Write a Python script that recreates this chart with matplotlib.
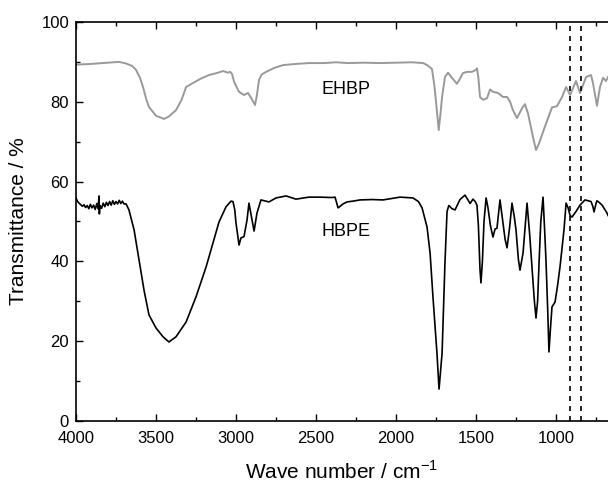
import matplotlib
matplotlib.use("Agg")
import matplotlib.pyplot as plt
from matplotlib.ticker import MultipleLocator

plt.rcParams['font.family'] = ['Liberation Sans', 'DejaVu Sans']

# EHBP spectrum (wavenumber, transmittance)
ehbp_w = [4000, 3900, 3800, 3731, 3687, 3650, 3625, 3600, 3581, 3560, 3544, 3500, 3450, 3420,
          3375, 3340, 3312, 3269, 3220, 3169, 3120, 3081, 3050, 3037, 3025, 3012, 2981, 2950,
          2925, 2906, 2881, 2870, 2856, 2840, 2812, 2760, 2706, 2620, 2544, 2450, 2375, 2300,
          2200, 2100, 2000, 1900, 1830, 1806, 1790, 1775, 1760, 1745, 1733, 1722, 1712, 1694,
          1675, 1650, 1619, 1600, 1581, 1556, 1525, 1500, 1494, 1485, 1475, 1456, 1431, 1412,
          1394, 1362, 1331, 1306, 1287, 1269, 1244, 1212, 1194, 1175, 1144, 1125, 1106, 1069,
          1025, 994, 962, 937, 912, 875, 850, 812, 781, 769, 744, 725, 706, 688, 675]
ehbp_t = [89.3, 89.5, 89.8, 90.0, 89.6, 89.0, 88.0, 86.0, 83.7, 80.5, 78.7, 76.5, 75.7, 76.3,
          77.9, 80.5, 83.7, 84.7, 85.8, 86.7, 87.2, 87.7, 87.3, 87.5, 87.0, 85.0, 82.5, 81.7,
          82.2, 81.0, 79.2, 81.5, 85.5, 86.8, 87.5, 88.5, 89.2, 89.5, 89.7, 89.7, 89.9, 89.7,
          89.8, 89.7, 89.8, 89.9, 89.7, 89.2, 88.7, 88.2, 84.0, 78.0, 72.9, 77.0, 81.2, 86.2,
          87.3, 86.0, 84.5, 85.8, 87.2, 87.5, 87.5, 88.0, 88.4, 86.0, 81.2, 80.5, 80.9, 83.1,
          82.5, 82.2, 81.2, 81.2, 80.0, 77.9, 75.9, 78.4, 79.4, 77.1, 71.2, 67.9, 69.6, 73.8,
          78.6, 78.9, 81.2, 83.7, 81.7, 85.2, 82.2, 86.2, 86.7, 84.7, 79.0, 83.7, 86.0, 85.2, 86.2]

# HBPE spectrum (wavenumber, transmittance)
hbpe_w = [4000, 3990, 3981, 3970, 3960, 3950, 3940, 3930, 3920, 3910, 3900, 3890, 3880, 3870,
          3862, 3856, 3854, 3850, 3840, 3830, 3820, 3810, 3800, 3790, 3780, 3770, 3760, 3750,
          3740, 3730, 3720, 3710, 3700, 3687, 3669, 3637, 3606, 3575, 3544, 3500, 3456, 3419,
          3375, 3312, 3250, 3187, 3144, 3106, 3062, 3031, 3019, 3008, 3000, 2981, 2969, 2950,
          2931, 2919, 2900, 2887, 2869, 2844, 2794, 2750, 2687, 2625, 2544, 2475, 2400, 2381,
          2362, 2331, 2306, 2269, 2225, 2150, 2081, 1975, 1894, 1860, 1837, 1806, 1787, 1769,
          1744, 1731, 1712, 1694, 1681, 1670, 1662, 1650, 1631, 1600, 1569, 1550, 1537, 1519,
          1505, 1494, 1485, 1475, 1469, 1460, 1450, 1437, 1425, 1410, 1394, 1381, 1369, 1350,
          1331, 1318, 1306, 1290, 1275, 1260, 1250, 1235, 1225, 1206, 1181, 1165, 1150, 1135,
          1125, 1115, 1106, 1095, 1081, 1070, 1062, 1052, 1044, 1035, 1025, 1006, 990, 975,
          950, 937, 925, 912, 900, 875, 850, 819, 800, 781, 770, 762, 750, 744, 725, 712,
          695, 681, 675]
hbpe_t = [55.9, 55.0, 54.6, 54.2, 53.8, 54.2, 53.5, 54.0, 53.2, 54.3, 53.4, 54.1, 53.0, 54.5,
          53.2, 56.4, 51.9, 54.0, 53.3, 54.6, 53.7, 54.8, 54.0, 55.0, 54.1, 55.2, 54.3, 55.0,
          54.4, 55.3, 54.5, 55.1, 54.4, 54.4, 52.9, 47.9, 40.4, 32.8, 26.6, 23.3, 21.1, 19.8,
          21.1, 24.8, 31.1, 38.6, 44.6, 49.9, 53.7, 55.1, 55.0, 53.0, 49.6, 44.1, 45.9, 46.2,
          50.4, 54.6, 50.4, 47.6, 52.1, 55.4, 54.9, 55.9, 56.4, 55.6, 56.1, 56.1, 56.0, 56.1,
          53.4, 54.4, 54.9, 55.1, 55.4, 55.5, 55.4, 56.1, 55.9, 55.0, 53.4, 48.6, 42.1, 31.1,
          17.0, 8.0, 17.0, 39.6, 52.5, 54.0, 53.7, 53.2, 52.9, 55.5, 56.6, 55.4, 54.5, 55.6,
          55.0, 54.1, 49.0, 38.0, 34.6, 40.0, 50.0, 55.9, 53.4, 49.0, 46.1, 48.1, 48.3, 55.4,
          49.6, 45.5, 43.4, 48.5, 54.6, 51.0, 47.9, 40.5, 37.8, 42.1, 54.6, 47.0, 38.6, 30.0,
          25.8, 30.0, 39.6, 50.0, 56.1, 47.0, 39.6, 28.0, 17.3, 23.0, 28.6, 29.8, 34.0, 38.6,
          47.9, 54.6, 53.5, 51.5, 51.1, 52.5, 54.1, 55.4, 55.2, 55.0, 53.8, 52.4, 54.5, 55.2,
          54.6, 54.1, 53.0, 52.1, 51.5]

marker_lines = [912, 845]
x_ticks = [4000, 3500, 3000, 2500, 2000, 1500, 1000]
y_ticks = [0, 20, 40, 60, 80, 100]

fig = plt.figure(figsize=(6.08, 4.83), dpi=100)
ax = fig.add_axes([0.125, 0.1284, 0.875, 0.8261])

ax.plot(ehbp_w, ehbp_t, color='#999999', lw=1.4)
ax.plot(hbpe_w, hbpe_t, color='black', lw=1.2)
for xv in marker_lines:
    ax.axvline(xv, color='black', lw=1.2, linestyle=(0, (3, 3)))

ax.text(2312, 83, 'EHBP', fontsize=13, ha='center', va='center')
ax.text(2312, 47.4, 'HBPE', fontsize=13, ha='center', va='center')

ax.set_xlim(4000, 675)
ax.set_ylim(0, 100)
ax.set_xticks(x_ticks)
ax.set_yticks(y_ticks)
ax.xaxis.set_minor_locator(MultipleLocator(250))
ax.yaxis.set_minor_locator(MultipleLocator(10))
ax.tick_params(which='both', direction='in', top=True, right=False, labelsize=12)
ax.tick_params(which='major', length=5, width=1)
ax.tick_params(which='minor', length=3, width=1)
ax.tick_params(axis='x', which='major', pad=7)
ax.tick_params(axis='y', which='major', pad=5)
ax.spines['right'].set_visible(False)
for s in ['left', 'bottom', 'top']:
    ax.spines[s].set_linewidth(1.2)

ax.set_xlabel('Wave number / cm$^{\\mathregular{-1}}$', fontsize=15)
ax.set_ylabel('Transmittance / %', fontsize=15)
ax.xaxis.set_label_coords(0.5, -0.098)
ax.yaxis.set_label_coords(-0.09, 0.5)

fig.savefig('out.png', dpi=100)
